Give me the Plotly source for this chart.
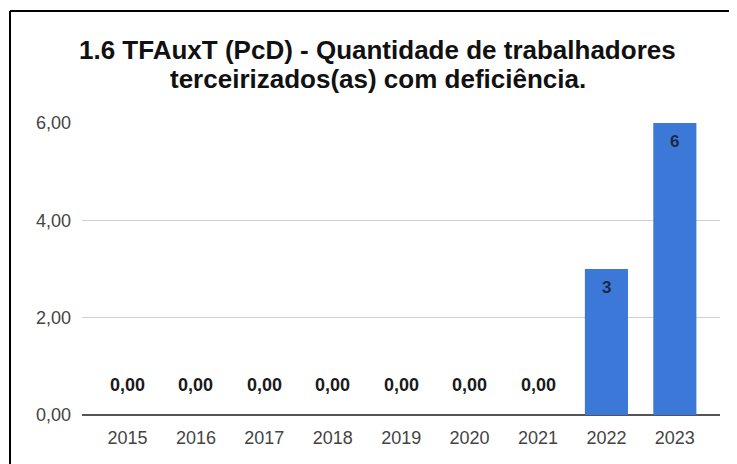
import plotly.graph_objects as go

years = ["2015", "2016", "2017", "2018", "2019", "2020", "2021", "2022", "2023"]
values = [0, 0, 0, 0, 0, 0, 0, 3, 6]
y_ticks = [0, 2, 4, 6]
y_tick_labels = ["0,00", "2,00", "4,00", "6,00"]
title_lines = ["1.6 TFAuxT (PcD) - Quantidade de trabalhadores",
               "terceirizados(as) com deficiência."]

FONT = "Liberation Sans, Arial, sans-serif"
BAR = "#3b78d8"

# page has an 8px body margin, so the figure is offset by 8px
W, H = 729, 456
ML, MR, MT, MB = 74, 17, 115, 49
pw = W - ML - MR
ph = H - MT - MB


def px_to_paper_x(px):
    return (px - ML) / pw


def px_to_paper_y(py):
    return (H - MB - py) / ph


fig = go.Figure()
fig.add_trace(go.Bar(x=years, y=values, marker_color=BAR, marker_line_width=0,
                     hoverinfo="skip"))

annotations = []
for i, (yr, v) in enumerate(zip(years, values)):
    if v == 0:
        annotations.append(dict(x=i, y=v, xref="x", yref="y",
                                text=f"{v:.2f}".replace(".", ","),
                                showarrow=False, yshift=30, yanchor="middle",
                                font=dict(family=FONT, size=18, color="#1a1a1a", weight="bold")))
    else:
        annotations.append(dict(x=i, y=v, xref="x", yref="y", text=f"{v:g}",
                                showarrow=False, yshift=-18, yanchor="middle",
                                font=dict(family=FONT, size=17, color="#1c2a44", weight="bold")))

title_centers_y = [42, 71]
for line, cy in zip(title_lines, title_centers_y):
    annotations.append(dict(text=line, xref="paper", yref="paper",
                            x=px_to_paper_x(369.5), y=px_to_paper_y(cy),
                            xanchor="center", yanchor="middle", showarrow=False,
                            font=dict(family=FONT, size=26, color="#111111", weight="bold")))

bx = px_to_paper_x(2)
by = px_to_paper_y(3)
shapes = [
    dict(type="line", xref="paper", yref="paper", x0=bx, x1=bx, y0=px_to_paper_y(H + 5), y1=by,
         line=dict(color="black", width=2)),
    dict(type="line", xref="paper", yref="paper", x0=bx, x1=px_to_paper_x(W - 1), y0=by, y1=by,
         line=dict(color="black", width=2)),
]

fig.update_layout(
    width=W, height=H,
    margin=dict(l=ML, r=MR, t=MT, b=MB, pad=0),
    paper_bgcolor="white", plot_bgcolor="white",
    bargap=0.37,
    showlegend=False,
    font=dict(family=FONT, size=18, color="#444444"),
    xaxis=dict(type="category", range=[-0.665, 8.66], showgrid=False, showline=False,
               ticks="", tickfont=dict(size=18, color="#444444"), zeroline=False,
               ticklabelstandoff=10),
    yaxis=dict(range=[0, 6], tickvals=y_ticks, ticktext=y_tick_labels,
               showgrid=True, gridcolor="#d0d0d0", gridwidth=1,
               zeroline=True, zerolinecolor="#555555", zerolinewidth=1.5,
               showline=False, ticks="", ticklabelstandoff=10,
               tickfont=dict(size=18, color="#444444")),
    annotations=annotations,
    shapes=shapes,
)

fig.write_html("out.html")
